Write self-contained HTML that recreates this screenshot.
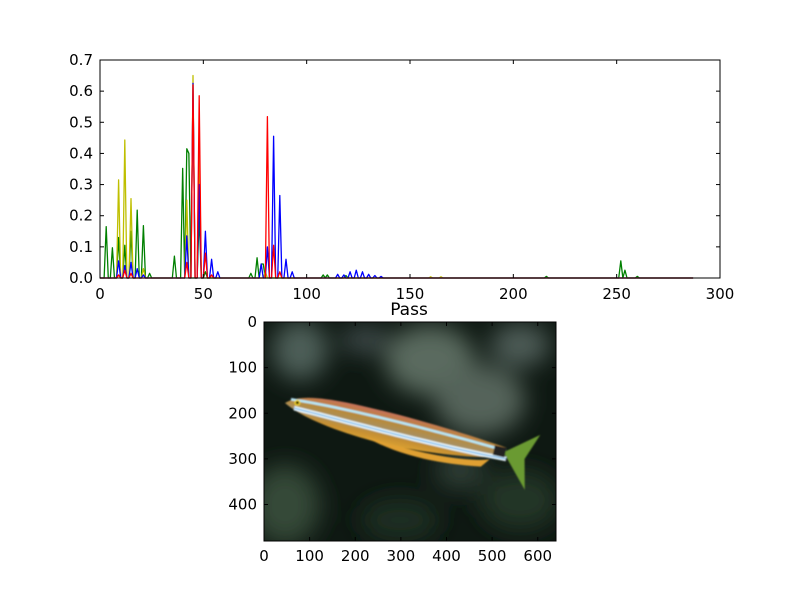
<!DOCTYPE html>
<html><head><meta charset="utf-8"><style>
body{margin:0;background:#fff}
svg text{font-family:"DejaVu Sans","Liberation Sans",sans-serif;font-size:15px;fill:#000}
</style></head><body>
<svg id="fig" width="800" height="600" viewBox="0 0 800 600" xmlns="http://www.w3.org/2000/svg">
<defs>
<filter id="blur" x="-50%" y="-50%" width="200%" height="200%"><feGaussianBlur stdDeviation="12"/></filter>
<filter id="blur2"><feGaussianBlur stdDeviation="0.7"/></filter>
<clipPath id="imgclip"><rect x="264" y="322" width="292" height="219"/></clipPath>
<linearGradient id="bodyg" x1="0" y1="0" x2="0" y2="1">
<stop offset="0" stop-color="#c8705a"/><stop offset="0.3" stop-color="#b88a3a"/><stop offset="0.55" stop-color="#a89060"/><stop offset="0.8" stop-color="#c89030"/><stop offset="1" stop-color="#d8a030"/>
</linearGradient>
</defs>
<rect width="800" height="600" fill="#fff"/>
<g id="top-chart"></g>
<text x="409" y="315" text-anchor="middle" style="font-size:17px">Pass</text>
<g id="image" clip-path="url(#imgclip)">
<rect x="264" y="322" width="292" height="219" fill="#0e1812"/>
<g filter="url(#blur)">
<ellipse cx="300" cy="350" rx="28" ry="30" fill="#4d5e58"/>
<ellipse cx="365" cy="340" rx="25" ry="14" fill="#3e4a48"/>
<ellipse cx="430" cy="360" rx="45" ry="35" fill="#5a6a5e"/>
<ellipse cx="480" cy="400" rx="45" ry="35" fill="#55645a"/>
<ellipse cx="520" cy="345" rx="30" ry="22" fill="#4e5c56"/>
<ellipse cx="285" cy="505" rx="35" ry="40" fill="#344a38"/>
<ellipse cx="400" cy="520" rx="40" ry="22" fill="#1f2e24"/>
<ellipse cx="520" cy="500" rx="40" ry="30" fill="#243428"/>
<ellipse cx="460" cy="470" rx="25" ry="20" fill="#2e3e34"/>
</g>
<g transform="translate(285,403) rotate(12.7)" filter="url(#blur2)">
<path d="M224,0 L256,-25 L246,2 L253,32 Z" fill="#6a9a30"/>
<path d="M0,0 C10,-10 30,-13 60,-14 C120,-15 180,-10 226,-5 L226,5 C180,16 120,20 80,17 C40,14 15,8 0,0 Z" fill="url(#bodyg)"/>
<path d="M85,15 C140,20 190,18 212,10 L205,19 C160,26 120,26 85,15 Z" fill="#e0a030"/>
<path d="M5,-5 C60,-9 150,-6 226,-2" stroke="#b8e8f8" stroke-width="2.5" fill="none"/>
<path d="M10,3 C60,4 150,9 228,6" stroke="#e8f8ff" stroke-width="4.5" fill="none"/>
<path d="M10,3 C60,4 150,9 228,6" stroke="#4aa0e0" stroke-width="1" fill="none"/>
<circle cx="12" cy="-3" r="3" fill="#f0d020"/><circle cx="12" cy="-3" r="1.5" fill="#000"/>
<rect x="214" y="-5" width="12" height="10" fill="#202020"/>
</g>
</g>
<rect x="264" y="322" width="292" height="219" fill="none" stroke="#000" stroke-width="1"/>
<g id="img-axes"></g>
</svg>
<script>
const binCount = 288;
const greenPos = [3,6,9,12,15,18,21,24,36,40,42,43,48,51,73,76,78,79,108,110,119,216,252,254,260];
const greenVal = [0.165,0.097,0.13,0.105,0.15,0.218,0.168,0.015,0.07,0.352,0.415,0.40,0.2,0.02,0.015,0.065,0.045,0.045,0.01,0.01,0.008,0.005,0.055,0.025,0.005];
const yellowPos = [9,12,15,21,42,45,48,80,160,165];
const yellowVal = [0.315,0.443,0.255,0.03,0.25,0.65,0.45,0.02,0.004,0.004];
const bluePos = [9,12,15,18,21,42,45,48,51,54,57,78,81,84,87,90,93,115,118,121,124,127,130,133,136];
const blueVal = [0.055,0.04,0.05,0.03,0.01,0.135,0.625,0.3,0.15,0.06,0.02,0.045,0.1,0.455,0.265,0.06,0.02,0.012,0.01,0.02,0.025,0.02,0.012,0.008,0.005];
const redPos = [9,12,15,42,45,48,51,54,81,84,87];
const redVal = [0.01,0.025,0.015,0.05,0.62,0.585,0.08,0.01,0.518,0.105,0.02];
const xTicks = [0,50,100,150,200,250,300];
const yTicks = [0.0,0.1,0.2,0.3,0.4,0.5,0.6,0.7];
const imgXTicks = [0,100,200,300,400,500,600];
const imgYTicks = [0,100,200,300,400];

const NS='http://www.w3.org/2000/svg';
const L=100,R=720,T=60,B=278;
const sx=v=>L+(v/300)*(R-L);
const sy=v=>B-(v/0.7)*(B-T);
const IL=264,IT=322,IW=292,IH=219;
const ix=v=>IL+v/640*IW, iy=v=>IT+v/480*IH;
function mk(tag,attrs,parent){const e=document.createElementNS(NS,tag);for(const k in attrs)e.setAttribute(k,attrs[k]);parent.appendChild(e);return e;}
const g=document.getElementById('top-chart');
function series(pos,val,color,name){
  const arr=new Array(binCount).fill(0);
  pos.forEach((p,i)=>{if(p<binCount)arr[p]=val[i];});
  const d=arr.map((v,i)=>(i?'L':'M')+sx(i).toFixed(2)+','+sy(v).toFixed(2)).join('');
  const p=mk('path',{d:d,fill:'none',stroke:color,'stroke-width':1.3,'stroke-linejoin':'round'},g);
  
  
}
series(greenPos,greenVal,'#008000','series-green');
series(yellowPos,yellowVal,'#bfbf00','series-yellow');
series(bluePos,blueVal,'#0000ff','series-blue');
series(redPos,redVal,'#ff0000','series-red');
const fr=mk('rect',{x:L,y:T,width:R-L,height:B-T,fill:'none',stroke:'#000','stroke-width':1},g);


xTicks.forEach(v=>{
  mk('line',{x1:sx(v),x2:sx(v),y1:B,y2:B-4,stroke:'#000'},g);
  mk('line',{x1:sx(v),x2:sx(v),y1:T,y2:T+4,stroke:'#000'},g);
  const t=mk('text',{x:sx(v),y:B+21,'text-anchor':'middle'},g);t.textContent=v;
  
  
});
yTicks.forEach(v=>{
  mk('line',{x1:L,x2:L+4,y1:sy(v),y2:sy(v),stroke:'#000'},g);
  mk('line',{x1:R,x2:R-4,y1:sy(v),y2:sy(v),stroke:'#000'},g);
  const t=mk('text',{x:L-7,y:sy(v)+5,'text-anchor':'end'},g);t.textContent=v.toFixed(1);
  
  
});
const ga=document.getElementById('img-axes');
imgXTicks.forEach(v=>{
  mk('line',{x1:ix(v),x2:ix(v),y1:IT+IH,y2:IT+IH-4,stroke:'#000'},ga);
  mk('line',{x1:ix(v),x2:ix(v),y1:IT,y2:IT+4,stroke:'#000'},ga);
  const t=mk('text',{x:ix(v),y:IT+IH+20,'text-anchor':'middle'},ga);t.textContent=v;
  
  
});
imgYTicks.forEach(v=>{
  mk('line',{x1:IL,x2:IL+4,y1:iy(v),y2:iy(v),stroke:'#000'},ga);
  mk('line',{x1:IL+IW,x2:IL+IW-4,y1:iy(v),y2:iy(v),stroke:'#000'},ga);
  const t=mk('text',{x:IL-7,y:iy(v)+5,'text-anchor':'end'},ga);t.textContent=v;
  
  
});
</script>
</body></html>
